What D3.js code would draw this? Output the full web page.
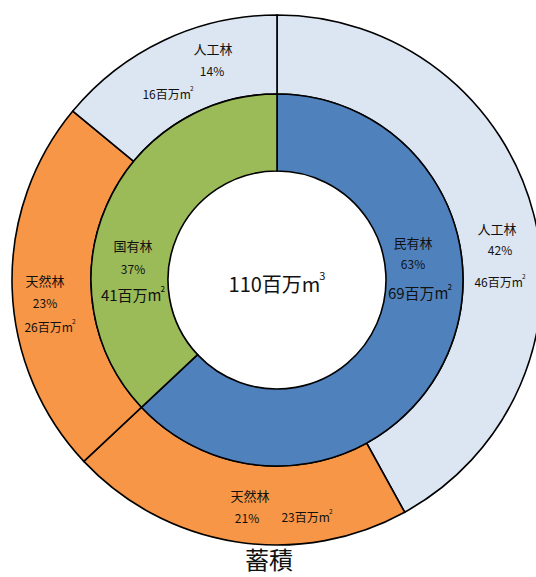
<!DOCTYPE html>
<head>
    <meta charset="utf-8">
    <title>蓄積</title>
    <script src="https://d3js.org/d3.v7.min.js"></script>
    <style>
        body { margin: 0; background: #fff; }
        text { font-family: "Noto Sans CJK JP", "Noto Sans", sans-serif; fill: #111; }
    </style>
</head>
<body>
    <script>
        // inner ring: ownership
        const owners = ["民有林", "国有林"]
        const ownerPct = [63, 37]
        const ownerVol = [69, 41]

        // outer ring: forest type within ownership
        const types = ["人工林", "天然林", "天然林", "人工林"]
        const typePct = [42, 21, 23, 14]
        const typeVol = [46, 23, 26, 16]

        const total = 110
        const title = "蓄積"

        const width = 536
        const height = 577
        const cx = 277, cy = 280
        const rHole = 109, rMid = 186, rOuter = 265

        const ownerColor = { "民有林": "#4f81bd", "国有林": "#9bbb59" }
        const typeColor = { "人工林": "#dce6f2", "天然林": "#f79646" }

        const svg = d3.select("body").append("svg")
            .attr("width", width)
            .attr("height", height)

        const g = svg.append("g").attr("transform", `translate(${cx}, ${cy})`)

        const pie = d3.pie().sort(null).value((d) => d.pct)

        const innerData = pie(owners.map((o, i) => ({ name: o, pct: ownerPct[i], vol: ownerVol[i] })))
        const outerData = pie(types.map((t, i) => ({ name: t, pct: typePct[i], vol: typeVol[i] })))

        const innerArc = d3.arc().innerRadius(rHole).outerRadius(rMid)
        const outerArc = d3.arc().innerRadius(rMid).outerRadius(rOuter)

        g.selectAll(".outer")
            .data(outerData)
            .join("path")
                .attr("class", "outer")
                .attr("d", outerArc)
                .attr("fill", (d) => typeColor[d.data.name])
                .attr("stroke", "#000")
                .attr("stroke-width", 1.6)

        g.selectAll(".inner")
            .data(innerData)
            .join("path")
                .attr("class", "inner")
                .attr("d", innerArc)
                .attr("fill", (d) => ownerColor[d.data.name])
                .attr("stroke", "#000")
                .attr("stroke-width", 1.6)

        // label placement (offsets from chart centre), per slice: name, pct, volume
        const outerLabelPos = [
            [[220, -52], [223, -31], [223, 1]],
            [[-27, 215], [-30, 237], [30, 236]],
            [[-232, 0], [-232, 22], [-227, 46]],
            [[-64, -232], [-65, -210], [-109, -187]]
        ]
        const innerLabelPos = [
            [[136, -38], [136, -17], [143, 12]],
            [[-144, -35], [-144, -12], [-144, 14]]
        ]

        function volText(sel, v, size, sup) {
            sel.append("tspan").text(v + "百万m")
            sel.append("tspan")
                .attr("font-size", size * 0.55)
                .attr("dx", -1)
                .attr("dy", -size * 0.4)
                .text(sup)
        }

        function addLabels(data, pos, nameSize, pctSize, volSize) {
            data.forEach((d, i) => {
                const p = pos[i]
                g.append("text")
                    .attr("x", p[0][0]).attr("y", p[0][1])
                    .attr("text-anchor", "middle")
                    .attr("dominant-baseline", "central")
                    .attr("font-size", nameSize)
                    .text(d.data.name)
                g.append("text")
                    .attr("x", p[1][0]).attr("y", p[1][1])
                    .attr("text-anchor", "middle")
                    .attr("dominant-baseline", "central")
                    .attr("font-size", pctSize)
                    .text(d.data.pct + "%")
                const t = g.append("text")
                    .attr("x", p[2][0]).attr("y", p[2][1])
                    .attr("text-anchor", "middle")
                    .attr("dominant-baseline", "central")
                    .attr("font-size", volSize)
                volText(t, d.data.vol, volSize, "2")
            })
        }

        addLabels(outerData, outerLabelPos, 13, 12, 12)
        addLabels(innerData, innerLabelPos, 13, 12, 15)

        const c = g.append("text")
            .attr("x", 0).attr("y", 3)
            .attr("text-anchor", "middle")
            .attr("dominant-baseline", "central")
            .attr("font-size", 20)
        volText(c, total, 20, "3")

        svg.append("text")
            .attr("x", 269).attr("y", 558)
            .attr("text-anchor", "middle")
            .attr("dominant-baseline", "central")
            .attr("font-size", 24)
            .text(title)
    </script>
</body>
